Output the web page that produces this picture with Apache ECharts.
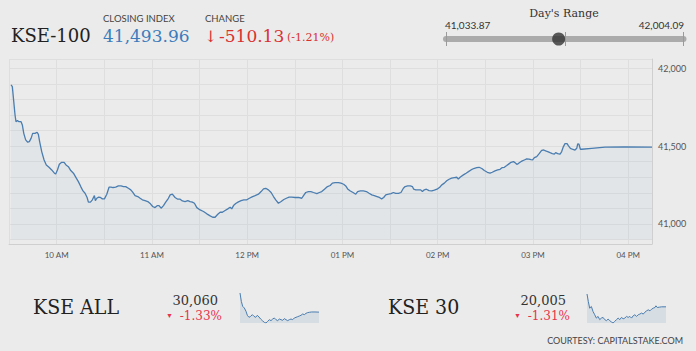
<!DOCTYPE html>
<html>
<head>
<meta charset="utf-8">
<title>KSE-100</title>
<script src="https://cdn.jsdelivr.net/npm/echarts@6/dist/echarts.min.js"></script>
<style>
  html, body { margin: 0; padding: 0; background: #ebebeb; }
  #chart { width: 696px; height: 351px; }
</style>
</head>
<body>
<div id="chart"></div>
<script>
// KSE-100 intraday (time in minutes after midnight)
const kse100Times = [
  571.3,572.1,573.0,573.8,574.4,575.3,576.3,577.6,578.4,579.3,580.5,581.8,582.8,583.9,584.9,586.4,587.7,588.5,589.3,590.6,
  592.1,593.5,595.2,596.9,598.6,599.4,600.5,601.7,603.2,604.7,605.9,607.4,608.9,610.6,612.2,613.7,615.2,616.6,617.9,619.2,
  620.0,621.3,622.5,623.8,624.4,625.3,626.3,627.6,628.8,630.1,631.6,633.0,634.3,635.5,637.2,638.9,640.6,642.1,643.5,645.2,
  646.7,647.9,649.4,651.1,652.6,654.0,655.7,657.4,659.1,660.5,662.0,663.5,664.5,665.8,667.3,668.7,670.4,671.5,
  672.9,674.6,676.3,677.8,679.2,680.9,682.6,684.1,685.5,686.8,688.3,690.4,692.5,694.6,696.7,698.3,699.8,701.5,703.0,704.4,
  706.1,707.8,709.3,710.3,711.4,712.8,714.5,716.2,717.9,719.8,721.4,723.1,725.0,727.1,728.8,730.3,731.7,733.4,735.1,736.6,
  738.0,739.7,741.4,743.1,744.7,746.4,748.1,750.2,752.3,754.4,755.5,756.9,758.6,760.1,761.8,763.9,765.5,767.0,768.7,770.6,772.3,
  773.7,775.4,777.5,779.1,780.8,782.1,783.3,785.0,786.7,788.4,789.6,791.3,793.2,795.1,796.8,798.5,800.1,801.8,803.3,804.7,
  806.0,807.3,809.0,810.6,812.1,813.6,815.3,816.9,818.4,819.5,821.1,822.8,824.1,824.9,826.2,827.8,829.3,830.4,831.6,832.9,
  834.6,836.3,837.9,839.6,841.3,842.6,844.2,845.7,847.2,848.8,850.5,852.0,853.0,854.3,856.2,857.9,859.4,861.0,862.7,864.6,
  866.1,867.8,869.4,871.3,873.0,
  874.4,876.1,877.8,879.3,880.7,882.0,883.5,884.9,886.2,887.7,888.7,889.8,890.8,892.1,893.3,894.6,896.1,897.5,898.8,899.8,
  900.9,902.4,903.8,905.5,906.8,908.0,909.3,910.8,912.2,913.5,914.3,915.6,917.1,918.1,919.2,920.2,921.5,922.3,923.6,924.8,
  926.5,927.6,928.2,929.0,929.9,930.7,937.0,945.4,958.0,975.0
];
const kse100Values = [
  41893,41882,41786,41700,41657,41664,41657,41657,41636,41582,41540,41525,41529,41550,41582,41582,41589,41576,41529,41465,
  41411,41379,41364,41347,41326,41321,41347,41383,41396,41396,41379,41368,41343,41326,41298,41272,41240,41212,41197,41170,
  41140,41140,41155,41182,41150,41165,41172,41170,41161,41161,41191,41236,41236,41234,41236,41244,41244,41240,41240,41229,
  41219,41204,41182,41176,41165,41155,41150,41144,41129,41112,41105,41118,41118,41101,41118,41140,41165,41187,
  41191,41170,41159,41159,41148,41144,41150,41144,41140,41133,41105,41090,41080,41065,41052,41043,41043,41062,41075,41075,
  41086,41097,41107,41097,41118,41131,41142,41150,41155,41155,41165,41174,41182,41191,41208,41225,41229,41219,41202,41176,
  41155,41133,41144,41157,41165,41172,41172,41170,41170,41165,41182,41202,41208,41208,41202,41195,41202,41208,41223,41240,41247,
  41262,41266,41266,41262,41255,41244,41225,41212,41202,41191,41208,41212,41212,41208,41197,41187,41182,41176,41170,41161,
  41170,41187,41191,41195,41202,41197,41197,41202,41229,41240,41244,41244,41240,41223,41219,41219,41219,41208,41219,41223,
  41214,41212,41217,41223,41236,41251,41262,41277,41287,41294,41298,41300,41289,41302,41315,41326,41336,41347,41356,41362,
  41364,41356,41343,41332,41326,
  41332,41341,41347,41351,41362,41364,41375,41386,41396,41401,41394,41383,41388,41398,41405,41411,41418,41416,41413,41411,
  41426,41433,41450,41473,41475,41469,41465,41458,41452,41448,41458,41452,41448,41465,41497,41516,41516,41503,41486,41480,
  41475,41486,41514,41512,41480,41480,41486,41493,41495,41494
];

// sparklines
const kseAllTimes = [571,577.8,584.6,593.2,601.7,608.5,617.0,625.5,634.1,642.6,651.1,659.6,668.2,676.7,685.2,695.4,704.0,712.5,721.0,729.5,
  738.1,746.6,755.1,763.6,772.1,780.7,789.2,797.7,806.2,814.8,823.3,831.8,840.3,848.8,857.4,865.9,874.4,882.9,891.5,900.0,
  908.5,917.0,925.6,937.5,954.5,975];
const kseAllValues = [30296,30193,30132,30111,30070,30021,29996,30008,30029,30008,29996,30021,30000,29975,29955,29934,29926,29947,29967,29955,
  29975,29988,29967,29955,29975,29967,29959,29980,29967,29955,29967,29975,29967,29988,29996,30004,30012,30021,30037,30029,
  30045,30054,30058,30062,30062,30060];
const kse30Times = [571,577.8,584.7,593.3,601.8,610.4,618.9,627.5,636.1,644.6,653.2,661.7,670.3,678.9,687.4,696.0,704.5,713.1,721.6,730.2,
  738.8,747.3,755.9,764.4,773.0,781.6,790.1,798.7,807.2,815.8,824.4,832.9,841.5,850.0,858.6,867.2,875.7,884.3,892.8,901.4,
  909.9,918.5,923.6,930.5,940.8,952.8,975];
const kse30Values = [20120,20052,19993,20008,19963,19934,19904,19919,19890,19904,19910,19890,19881,19895,19881,19869,19860,19875,19890,19904,
  19890,19910,19898,19904,19919,19910,19919,19904,19925,19934,19919,19934,19940,19949,19940,19957,19969,19978,19969,19984,
  19993,19999,20014,19999,20002,20005,20005];

// header figures
const closing = 41493.96;
const change = -510.13;
const changePct = -1.21;
const dayRange = [41033.87, 42004.09];

// bottom boards
const boardNames = ['KSE ALL', 'KSE 30'];
const boardLast = [30060, 20005];
const boardPct = [-1.33, -1.31];

// axis labels
const hourTicks = [600, 660, 720, 780, 840, 900, 960];
const yTicks = [41000, 41500, 42000];

const chart = echarts.init(document.getElementById('chart'), null, { renderer: 'svg' });

const blue = '#4a7db0';
const red = '#d9312f';
const pink = '#e8334a';
const gridColor = '#dedede';
const serif = '"DejaVu Serif", serif';
const sans = 'Lato, "Noto Sans", sans-serif';

const fmt = (v, d) => v.toLocaleString('en-US', { minimumFractionDigits: d, maximumFractionDigits: d });
const zip = (xs, ys) => xs.map((x, i) => [x, ys[i]]);

function hourLabel(v) {
  if (!hourTicks.includes(v)) return '';
  const h = v / 60;
  const h12 = h > 12 ? h - 12 : h;
  return String(h12).padStart(2, '0') + (h < 12 ? ' AM' : ' PM');
}

function txt(x, y, text, size, color, family, align, scaleY) {
  return {
    type: 'text', x, y, scaleY: scaleY || 1, silent: true,
    style: {
      text, fill: color, font: size + 'px ' + family,
      textAlign: align || 'left', align: align || 'left',
      textVerticalAlign: 'middle', verticalAlign: 'middle'
    }
  };
}

const graphics = [
  txt(11, 35, 'KSE-100', 18, '#222', serif),
  txt(103, 18.5, 'CLOSING INDEX', 9.5, '#444', sans),
  txt(103, 36, fmt(closing, 2), 17, '#3d7cbc', serif),
  txt(205, 18.5, 'CHANGE', 9.5, '#444', sans),
  txt(204, 36, '↓', 16, red, serif),
  txt(219, 36, fmt(change, 2), 17, red, serif),
  txt(287, 37.5, '(' + changePct.toFixed(2) + '%)', 11, red, serif),
  txt(564, 13, "Day's Range", 11, '#333', serif, 'center'),
  txt(445, 25, fmt(dayRange[0], 2), 10, '#333', sans),
  txt(684, 25, fmt(dayRange[1], 2), 10, '#333', sans, 'right'),
  txt(683, 340, 'COURTESY: CAPITALSTAKE.COM', 9, '#444', sans, 'right')
];
const nameX = [33, 388], numRight = [218, 566], triX = [166, 514];
boardNames.forEach((name, i) => {
  graphics.push(txt(nameX[i], 307, name, 19, '#222', serif, 'left', 1.12));
  graphics.push(txt(numRight[i], 300, fmt(boardLast[i], 0), 13, '#333', serif, 'right'));
  graphics.push(txt(numRight[i] + 4, 316, boardPct[i].toFixed(2) + '%', 12, pink, serif, 'right'));
  graphics.push(txt(triX[i], 315, '▼', 7, pink, sans));
});

const spark = (gi, times, values) => ({
  type: 'line', xAxisIndex: gi, yAxisIndex: gi, data: zip(times, values),
  showSymbol: false, silent: true,
  lineStyle: { color: blue, width: 1 },
  areaStyle: { color: 'rgba(74,125,176,0.18)', origin: 'start' }
});

chart.setOption({
  animation: false,
  backgroundColor: '#ebebeb',
  grid: [
    { left: 9, right: 44, top: 59, bottom: 107 },
    { left: 9, right: 44, top: 68.3, bottom: 111.5 },
    { left: 446, right: 12.5, top: 32, height: 14 },
    { left: 240, top: 293, width: 79, height: 30 },
    { left: 587, top: 294, width: 79, height: 29 }
  ],
  xAxis: [
    {
      gridIndex: 0, type: 'value', min: 570, max: 975, interval: 30,
      axisLine: { lineStyle: { color: '#cfcfcf' } },
      axisTick: { show: false },
      splitLine: { lineStyle: { color: gridColor } },
      axisLabel: { formatter: hourLabel, color: '#555', fontSize: 8, fontFamily: sans, margin: 7 }
    },
    { gridIndex: 1, type: 'value', min: 570, max: 975, show: false },
    {
      gridIndex: 2, type: 'value', min: dayRange[0], max: dayRange[1],
      axisLine: { onZero: true, lineStyle: { color: '#ababab', width: 6 } },
      axisTick: { show: false }, axisLabel: { show: false }, splitLine: { show: false }
    },
    { gridIndex: 3, type: 'value', min: 'dataMin', max: 'dataMax', show: false },
    { gridIndex: 4, type: 'value', min: 'dataMin', max: 'dataMax', show: false }
  ],
  yAxis: [
    {
      gridIndex: 0, type: 'value', min: 0, max: 1, interval: 1, position: 'right',
      axisLine: { show: true, lineStyle: { color: '#cfcfcf' } },
      axisTick: { show: false }, axisLabel: { show: false },
      splitLine: { lineStyle: { color: gridColor } }
    },
    {
      gridIndex: 1, type: 'value', min: 40900, max: 42000, interval: 100, position: 'right',
      axisLine: { show: false }, axisTick: { show: false },
      splitLine: { lineStyle: { color: gridColor } },
      axisLabel: {
        formatter: v => yTicks.includes(v) ? fmt(v, 0) : '',
        color: '#555', fontSize: 9, fontFamily: sans, margin: 6
      }
    },
    { gridIndex: 2, type: 'value', min: -1, max: 1, show: false },
    { gridIndex: 3, type: 'value', min: 'dataMin', max: 'dataMax', show: false },
    { gridIndex: 4, type: 'value', min: 'dataMin', max: 'dataMax', show: false }
  ],
  series: [
    {
      type: 'line', xAxisIndex: 1, yAxisIndex: 1,
      data: zip(kse100Times, kse100Values),
      showSymbol: false, silent: true,
      lineStyle: { color: blue, width: 1.3 },
      areaStyle: { color: 'rgba(74,125,176,0.07)', origin: 'start' }
    },
    {
      type: 'scatter', xAxisIndex: 2, yAxisIndex: 2,
      data: [[closing, 0]], symbolSize: 13, silent: true, z: 5,
      itemStyle: { color: '#333' },
      markLine: {
        symbol: 'none', silent: true, label: { show: false },
        lineStyle: { color: '#9a9a9a', width: 1, type: 'solid' },
        data: [
          { xAxis: dayRange[0] },
          { xAxis: (dayRange[0] + dayRange[1]) / 2 },
          { xAxis: dayRange[1] }
        ]
      }
    },
    spark(3, kseAllTimes, kseAllValues),
    spark(4, kse30Times, kse30Values)
  ],
  graphic: graphics
});
</script>
</body>
</html>
